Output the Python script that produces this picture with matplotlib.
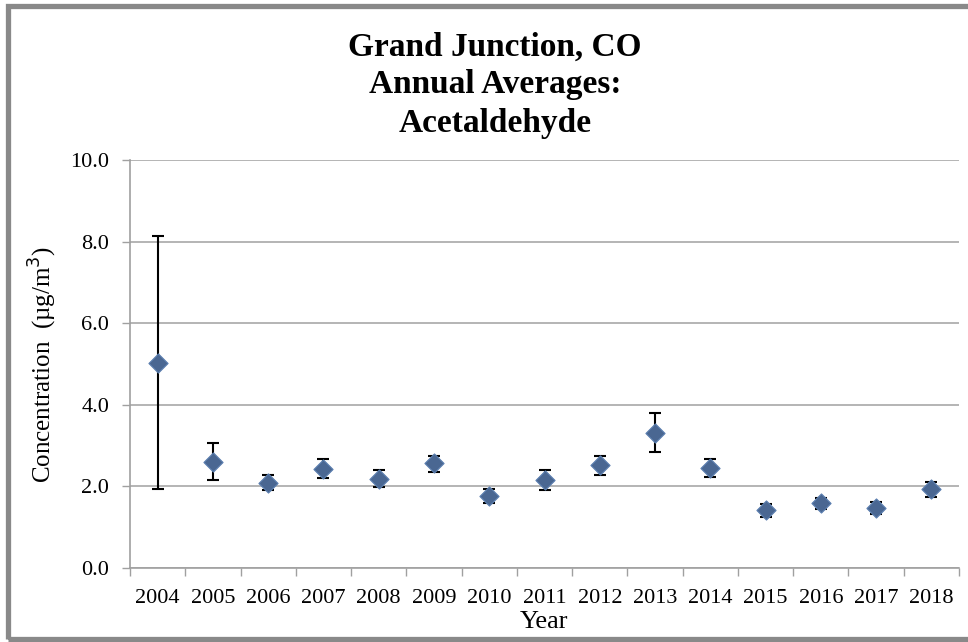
import numpy as np
import matplotlib.pyplot as plt
from matplotlib.patches import Rectangle

years = ["2004", "2005", "2006", "2007", "2008", "2009", "2010", "2011",
         "2012", "2013", "2014", "2015", "2016", "2017", "2018"]
means = [5.02, 2.61, 2.08, 2.43, 2.19, 2.57, 1.76, 2.16,
         2.52, 3.32, 2.46, 1.42, 1.59, 1.47, 1.93]
upper = [8.14, 3.06, 2.27, 2.66, 2.39, 2.75, 1.94, 2.40,
         2.75, 3.81, 2.67, 1.57, 1.72, 1.62, 2.11]
lower = [1.93, 2.16, 1.90, 2.21, 1.99, 2.35, 1.59, 1.90,
         2.29, 2.84, 2.24, 1.26, 1.45, 1.32, 1.73]

plt.rcParams['font.family'] = ['Liberation Serif', 'DejaVu Serif']

W, H = 968, 642
fig = plt.figure(figsize=(W / 100, H / 100), dpi=100)

# grey chart frame (cut off at right edge like the reference)
fig.patches.append(Rectangle((7.5 / W, 3 / H), 1.2, 1 - 8.5 / H,
                             transform=fig.transFigure, fill=False,
                             edgecolor="#898989", linewidth=3.8))

left, right, top, bottom = 130, 959, 160, 568
ax = fig.add_axes([left / W, 1 - bottom / H, (right - left) / W, (bottom - top) / H])

x = np.arange(len(years))
m = np.array(means)
yerr = [m - np.array(lower), np.array(upper) - m]
ax.errorbar(x, m, yerr=yerr, fmt="none", ecolor="black", elinewidth=1.5,
            capsize=4.5, capthick=1.5, zorder=3)
ax.scatter(x, m, marker="D", s=95, color="#4a6792", edgecolors="#5b7fb0",
           linewidths=0.8, zorder=4)

ax.set_xlim(-0.5, len(years) - 0.5)
ax.set_ylim(0, 10)
ax.set_yticks(np.arange(0, 10.1, 2.0))
ax.set_yticklabels([f"{v:.1f}" for v in np.arange(0, 10.1, 2.0)], fontsize=16)
ax.set_xticks(x)
ax.set_xticklabels(years, fontsize=16)
ax.set_xticks(np.arange(-0.5, len(years), 1.0), minor=True)
ax.tick_params(axis="x", which="major", length=0, pad=15)
ax.tick_params(axis="x", which="minor", length=6, color="#a0a0a0", width=1)
ax.tick_params(axis="y", length=6, color="#a0a0a0", width=1, pad=9)

ax.grid(axis="y", color="#a8a8a8", linewidth=1.2)
ax.set_axisbelow(True)
for s in ["top", "right"]:
    ax.spines[s].set_visible(False)
for s in ["left", "bottom"]:
    ax.spines[s].set_color("#a0a0a0")
    ax.spines[s].set_linewidth(1.2)

ax.set_xlabel("Year", fontsize=19, labelpad=2)
ax.set_ylabel("Concentration  (\u00b5g/m$^3$)", fontsize=18, labelpad=8)

fig.text(495 / W, 1 - 85 / H, "Grand Junction, CO\nAnnual Averages:\nAcetaldehyde",
         ha="center", va="center", fontsize=24, fontweight="bold",
         linespacing=1.3)

fig.savefig("out.png", dpi=100)
